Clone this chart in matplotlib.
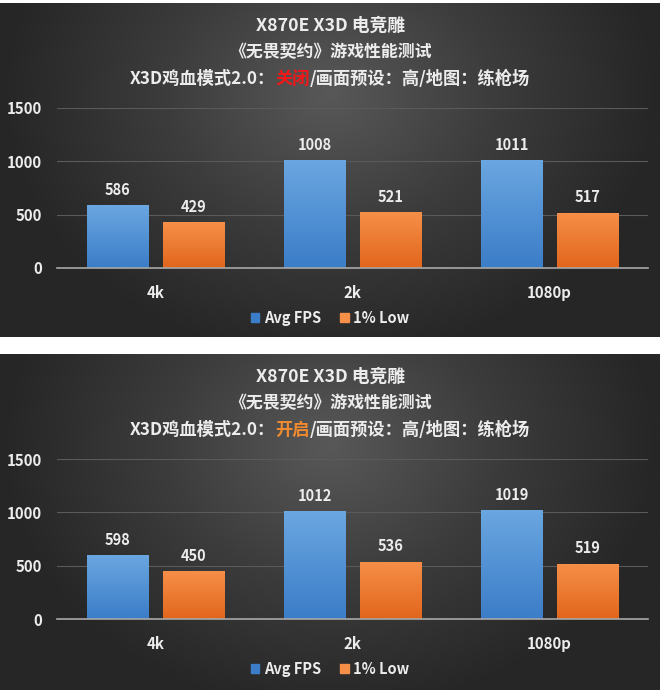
import matplotlib
matplotlib.use('Agg')
import matplotlib.pyplot as plt
from matplotlib.colors import LinearSegmentedColormap
import numpy as np

plt.rcParams['font.family'] = ['Noto Sans CJK SC', 'DejaVu Sans']

categories = ['4k', '2k', '1080p']
series_names = ['Avg FPS', '1% Low']
off_avg = [586, 1008, 1011]
off_low = [429, 521, 517]
on_avg = [598, 1012, 1019]
on_low = [450, 536, 519]
yticks = [0, 500, 1000, 1500]

title1 = 'X870E X3D 电竞雕'
title2 = '《无畏契约》游戏性能测试'
title3_pre = 'X3D鸡血模式2.0：'
title3_post = '/画面预设：高/地图：练枪场'
mode_off = '关闭'
mode_on = '开启'

W, H = 660, 692
TEXT = '#ececec'
BLUE = ('#6aa6e0', '#3b7dc8')
ORANGE = ('#f68f48', '#e2661c')

fig = plt.figure(figsize=(W / 100, H / 100), dpi=100)
fig.patch.set_facecolor('white')


def fx(px):
    return px / W


def fy(py):
    return 1 - py / H


def background(top, bottom):
    bg = fig.add_axes([0, fy(bottom), 1, (bottom - top) / H])
    bg.set_axis_off()
    xx, yy = np.meshgrid(np.linspace(-1, 1, 300), np.linspace(-1, 1, 300))
    r = np.sqrt((xx / 1.0) ** 2 + ((yy + 0.45) / 1.6) ** 2)
    cmap = LinearSegmentedColormap.from_list('bg', ['#585858', '#3c3c3c', '#262626'])
    bg.imshow(np.clip(r, 0, 1), cmap=cmap, aspect='auto', extent=(0, 1, 0, 1),
              origin='upper', vmin=0, vmax=1)
    bg.set_xlim(0, 1)
    bg.set_ylim(0, 1)


def gradient_bars(ax, xs, vals, width, colors):
    cmap = LinearSegmentedColormap.from_list('g', [colors[1], colors[0]])
    grad = np.linspace(0, 1, 100).reshape(-1, 1)
    bars = ax.bar(xs, vals, width, color=colors[1], zorder=3)
    for b in bars:
        x0, y0 = b.get_x(), b.get_y()
        im = ax.imshow(grad, cmap=cmap, aspect='auto', origin='lower',
                       extent=(x0, x0 + b.get_width(), y0, y0 + b.get_height()), zorder=4)
        im.set_clip_path(b)
    for x, v in zip(xs, vals):
        ax.text(x, v + 70, str(v), ha='center', va='bottom', color=TEXT,
                fontsize=10.5, fontweight='bold', zorder=5)
    return bars


def panel(top, bottom, avg, low, mode, mode_color):
    background(top, bottom)

    renderer = fig.canvas.get_renderer()
    fig.text(0.5, fy(top + 23), title1, ha='center', va='center', color=TEXT,
             fontsize=12.8, fontweight='bold')
    fig.text(0.5, fy(top + 49), title2, ha='center', va='center', color=TEXT,
             fontsize=12.2, fontweight='bold')

    parts = [(title3_pre, TEXT), (mode, mode_color), (title3_post, TEXT)]
    objs = [fig.text(0, fy(top + 76), s, ha='left', va='center', color=c,
                     fontsize=12.4, fontweight='bold') for s, c in parts]
    widths = [t.get_window_extent(renderer).width for t in objs]
    x = (W - sum(widths)) / 2
    for t, w in zip(objs, widths):
        t.set_x(fx(x))
        x += w

    y0 = top + 265
    y1 = top + 105
    ax = fig.add_axes([fx(57), fy(y0), fx(648 - 57), (y0 - y1) / H])
    ax.patch.set_alpha(0)
    xs = np.arange(len(categories))
    bw = 0.31
    off = 0.193
    gradient_bars(ax, xs - off, avg, bw, BLUE)
    gradient_bars(ax, xs + off, low, bw, ORANGE)
    ax.set_xlim(-0.5, len(categories) - 0.5)
    ax.set_ylim(0, 1500)
    ax.set_yticks(yticks)
    ax.set_xticks(xs)
    ax.set_xticklabels(categories)
    ax.tick_params(axis='both', length=0, colors=TEXT, labelsize=10.8)
    ax.tick_params(axis='x', pad=12)
    ax.tick_params(axis='y', pad=11)
    for lab in ax.get_xticklabels() + ax.get_yticklabels():
        lab.set_fontweight('bold')
    ax.grid(axis='y', color='#5a5a5a', linewidth=0.8, zorder=0)
    ax.set_axisbelow(True)
    for s in ['top', 'right', 'left']:
        ax.spines[s].set_visible(False)
    ax.spines['bottom'].set_color('#a8a8a8')
    ax.spines['bottom'].set_linewidth(1.2)
    ax.spines['bottom'].set_zorder(5)

    handles = [plt.Rectangle((0, 0), 1, 1, color=BLUE[1]),
               plt.Rectangle((0, 0), 1, 1, color=ORANGE[0])]
    leg = ax.legend(handles, series_names, loc='center', ncol=2, frameon=False,
                    bbox_to_anchor=(fx(330 - 57) / fx(648 - 57), -(top + 315 - y0) / (y0 - y1)),
                    handlelength=0.6, handleheight=0.6, handletextpad=0.3,
                    columnspacing=1.3, prop={'size': 10.5, 'weight': 'bold'})
    for t in leg.get_texts():
        t.set_color(TEXT)


panel(3, 337, off_avg, off_low, mode_off, '#f01818')
panel(354, 690, on_avg, on_low, mode_on, '#f08a30')

plt.savefig('out.png', dpi=100, facecolor=fig.get_facecolor())
